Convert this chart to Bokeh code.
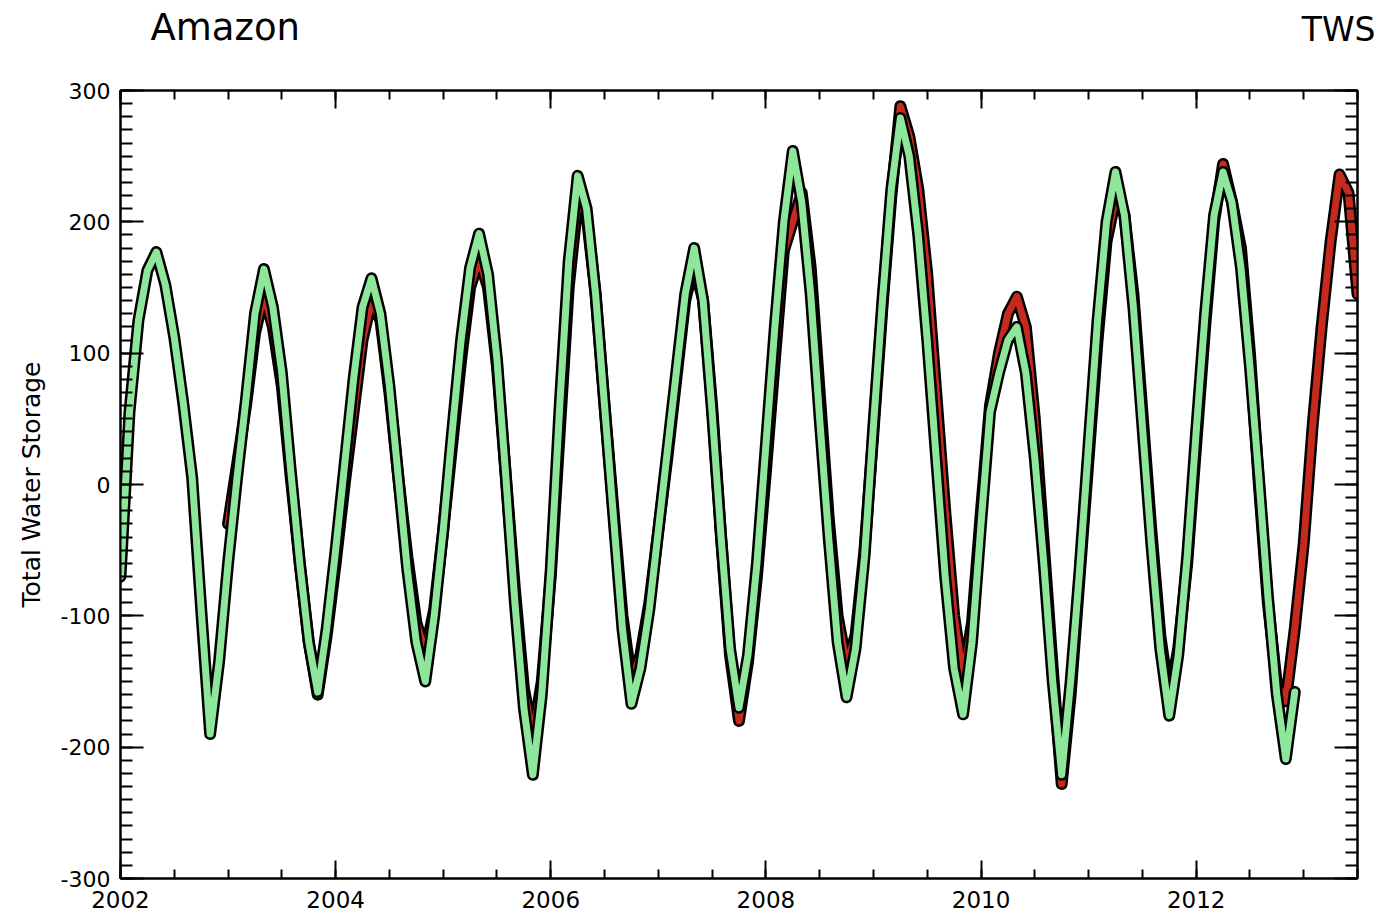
from bokeh.plotting import figure
from bokeh.models import Range1d, LinearAxis, FixedTicker, CustomJSTickFormatter, Label, ColumnDataSource
from bokeh.embed import file_html
from bokeh.resources import INLINE

# ---- data (monthly Total Water Storage, Amazon) ----
model_start = 2002.0   # green series starts Jan 2002
obs_start = 2003.0     # red series starts Jan 2003

model_tws = [
    -70, 55, 125, 163, 177, 152, 112, 62, 5, -95, -190, -135,      # 2002
    -60, 5, 65, 130, 164, 135, 85, 10, -60, -120, -158, -110,      # 2003
    -50, 15, 80, 135, 157, 130, 75, 5, -65, -120, -150, -100,      # 2004
    -35, 40, 110, 165, 191, 160, 95, 5, -90, -170, -221, -160,     # 2005
    -65, 60, 170, 235, 210, 145, 60, -25, -110, -167, -140, -95,   # 2006
    -35, 25, 85, 145, 180, 140, 55, -40, -125, -170, -130, -60,    # 2007
    30, 120, 200, 254, 215, 145, 50, -40, -120, -162, -125, -55,   # 2008
    45, 140, 225, 279, 250, 190, 110, 20, -70, -140, -175, -120,   # 2009
    -30, 55, 85, 110, 120, 85, 20, -60, -150, -221, -150, -65,     # 2010
    30, 125, 200, 238, 205, 135, 45, -45, -125, -176, -130, -55,   # 2011
    40, 130, 205, 238, 215, 165, 90, 5, -85, -160, -209, -158,     # 2012
]

obs_tws = [
    -30, 15, 60, 115, 145, 120, 75, 5, -60, -120, -160, -115,      # 2003
    -60, 0, 55, 110, 140, 125, 70, 5, -55, -105, -128, -95,        # 2004
    -35, 30, 95, 150, 172, 150, 90, 5, -80, -155, -192, -150,      # 2005
    -70, 40, 150, 215, 205, 145, 60, -20, -100, -150, -130, -90,   # 2006
    -35, 20, 80, 140, 168, 140, 60, -40, -130, -180, -135, -70,    # 2007
    10, 95, 178, 200, 222, 165, 70, -25, -100, -137, -115, -50,    # 2008
    40, 135, 220, 288, 265, 225, 160, 70, -20, -100, -147, -105,   # 2009
    -20, 60, 100, 130, 143, 120, 50, -45, -140, -228, -160, -70,   # 2010
    20, 110, 185, 218, 205, 145, 55, -35, -115, -163, -125, -60,   # 2011
    30, 120, 200, 244, 215, 180, 100, 0, -90, -152, -165, -110,    # 2012
    -45, 45, 120, 185, 236, 222, 145,                              # 2013
]

x_major = [2002, 2004, 2006, 2008, 2010, 2012]
x_minor = [2002 + 0.5 * i for i in range(24)]
y_major = [-300, -200, -100, 0, 100, 200, 300]
y_minor = list(range(-300, 301, 10))

model_t = [model_start + i / 12 for i in range(len(model_tws))]
obs_t = [obs_start + i / 12 for i in range(len(obs_tws))]

src_model = ColumnDataSource(dict(t=model_t, v=model_tws))
src_obs = ColumnDataSource(dict(t=obs_t, v=obs_tws))

FONT = "DejaVu Sans"

p = figure(width=1381, height=922, output_backend="svg", toolbar_location=None,
           x_range=Range1d(2002, 2013.5), y_range=Range1d(-300, 300),
           min_border_left=120, min_border_right=24, min_border_top=90, min_border_bottom=44,
           background_fill_color="white", border_fill_color="white")
p.grid.visible = False
p.outline_line_color = "black"
p.outline_line_width = 2

# series: red (observed) under green (model), each with black outline
p.line("t", "v", source=src_obs, line_color="black", line_width=12, line_join="round", line_cap="round")
p.line("t", "v", source=src_obs, line_color="#C62A1E", line_width=7, line_join="round", line_cap="round")
p.line("t", "v", source=src_model, line_color="black", line_width=12, line_join="round", line_cap="round")
p.line("t", "v", source=src_model, line_color="#8EE69A", line_width=7, line_join="round", line_cap="round")

blank = "return ''"


def style(ax, major, minor, tin, tmin):
    ax.ticker = FixedTicker(ticks=major, minor_ticks=minor)
    ax.axis_line_color = "black"
    ax.axis_line_width = 2
    ax.major_tick_in = tin
    ax.major_tick_out = 0
    ax.minor_tick_in = tmin
    ax.minor_tick_out = 0
    ax.major_tick_line_color = "black"
    ax.minor_tick_line_color = "black"
    ax.major_tick_line_width = 2
    ax.minor_tick_line_width = 2
    ax.major_label_text_font = FONT
    ax.major_label_text_font_size = "22px"
    ax.major_label_text_color = "black"


xa = p.xaxis[0]
style(xa, x_major, x_minor, 18, 9)
xa.formatter = CustomJSTickFormatter(code="return tick.toFixed(0)")
xa.major_label_text_font_size = "23px"
xa.major_label_standoff = 12

ya = p.yaxis[0]
style(ya, y_major, y_minor, 23, 12)
ya.formatter = CustomJSTickFormatter(code="return tick.toFixed(0)")
ya.major_label_standoff = 10
ya.axis_label = "Total Water Storage"
ya.axis_label_text_font = FONT
ya.axis_label_text_font_size = "25px"
ya.axis_label_text_font_style = "normal"
ya.axis_label_text_color = "black"
ya.axis_label_standoff = 12

top = LinearAxis()
style(top, x_major, x_minor, 18, 9)
top.formatter = CustomJSTickFormatter(code=blank)
top.major_label_standoff = 0
p.add_layout(top, "above")

right = LinearAxis()
style(right, y_major, y_minor, 23, 12)
right.formatter = CustomJSTickFormatter(code=blank)
right.major_label_standoff = 0
p.add_layout(right, "right")

# headings live in the top side panels (screen units relative to each panel)
p.add_layout(Label(x=30, y=63, x_units="screen", y_units="screen", text="Amazon",
                   text_font=FONT, text_font_size="37px", text_color="black",
                   text_baseline="alphabetic", text_align="left"), "above")
p.add_layout(Label(x=1255, y=18, x_units="screen", y_units="screen", text="TWS",
                   text_font=FONT, text_font_size="33px", text_color="black",
                   text_baseline="alphabetic", text_align="right"), "above")

open("out.html", "w").write(file_html(p, INLINE))
